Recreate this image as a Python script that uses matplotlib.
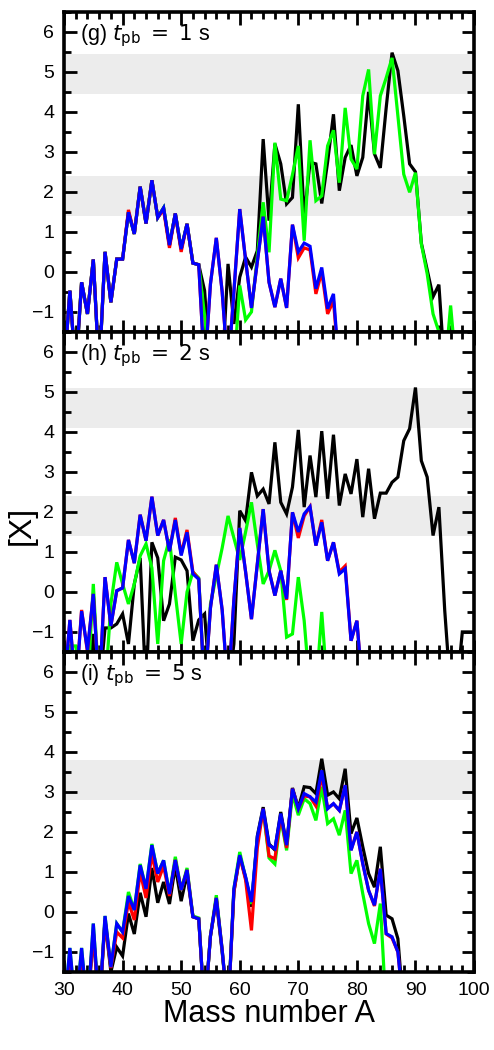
import numpy as np
import matplotlib
matplotlib.use("Agg")
import matplotlib.pyplot as plt
from matplotlib.ticker import MultipleLocator

plt.rcParams['font.family'] = ['Liberation Sans', 'DejaVu Sans']
plt.rcParams['mathtext.fontset'] = 'dejavusans'

L = -2.5  # value below the plotted range
N = np.nan
mass_number = list(range(30, 101))

def pad(vals):
    v = list(vals) + [N] * (71 - len(vals))
    return np.array(v, dtype=float)

# ---------------- panel (g) t_pb = 1 s ----------------
g_blue = pad([L, -0.47, L, -0.26, -1.05, 0.31, L, 0.5, -0.76, 0.32,
              0.32, 1.49, 0.95, 2.13, 1.21, 2.29, 1.36, 1.6, 0.67, 1.46,
              0.57, 1.2, 0.22, 0.18, L, -0.3, 0.85, -0.5, L, -0.5,
              1.57, 0.3, -0.9, 0.25, 1.38, -0.26, -0.88, -0.17, -0.9, 1.18,
              0.5, 0.72, 0.64, -0.42, 0.11, -0.92, -0.55, L])
g_red = pad([L, -0.47, L, -0.26, -1.05, 0.31, L, 0.5, -0.76, 0.32,
             0.32, 1.55, 0.95, 2.13, 1.21, 2.29, 1.36, 1.55, 0.6, 1.46,
             0.5, 1.2, 0.22, 0.18, L, -0.3, 0.85, -0.5, L, -0.5,
             1.57, 0.3, -0.9, 0.25, 1.38, -0.26, -0.88, -0.17, -0.9, 1.18,
             0.35, 0.6, 0.55, -0.55, 0.0, -1.05, -0.72, L])
g_black = pad([L, -0.47, L, -0.26, -1.05, 0.31, L, 0.5, -0.76, 0.32,
               0.32, 1.49, 0.95, 2.13, 1.21, 2.29, 1.36, 1.6, 0.67, 1.46,
               0.57, 1.2, 0.22, 0.18, -0.47, L, L, L, 0.2, -1.3,
               -0.13, 0.37, 0.12, 0.53, 3.32, 1.28, 3.2, 2.7, 1.7, 1.86,
               4.19, 1.36, 2.74, 2.7, 1.71, 2.75, 3.94, 2.03, 2.86, 3.17,
               2.4, 2.86, 4.5, 2.95, 2.6, 4.1, 5.48, 5.03, 3.9, 2.7,
               2.5, 0.72, 0.05, -0.62, -0.32, L])
g_green = pad([L, -0.47, L, -0.26, -1.05, 0.31, L, 0.5, -0.76, 0.32,
               0.32, 1.49, 0.95, 2.13, 1.21, 2.29, 1.36, 1.6, 0.67, 1.46,
               0.57, 1.2, 0.22, 0.18, -1.1, L, L, L, L, L,
               -0.34, -1.2, -1.0, 0.4, 1.74, 0.49, 3.23, 1.82, 1.78, 2.43,
               3.15, 0.78, 3.29, 1.78, 1.9, 3.15, 3.54, 2.23, 4.1, 2.82,
               2.57, 4.4, 5.06, 2.94, 4.4, 4.85, 5.35, 3.9, 2.44, 1.99,
               2.48, 0.7, -0.05, -1.05, -1.5, L, -0.84, L])

# ---------------- panel (h) t_pb = 2 s ----------------
h_blue = pad([L, -0.7, L, -0.48, -1.45, -0.05, L, 0.37, -0.85, 0.03,
              0.1, 1.3, 0.72, 1.93, 1.28, 2.38, 1.41, 1.8, 1.02, 1.8,
              0.91, 1.49, 0.45, 0.32, L, -0.4, 0.68, -0.45, L, -0.2,
              1.6, 0.5, -0.68, 0.7, 2.07, 0.53, -0.09, 0.53, -0.17, 1.99,
              1.5, 1.95, 2.13, 1.16, 1.74, 0.78, 1.24, 0.45, 0.58, -1.22,
              -0.72, L])
h_red = pad([L, -0.7, L, -0.45, -1.5, -0.05, L, 0.37, -0.85, 0.03,
             0.1, 1.3, 0.72, 1.93, 1.28, 2.38, 1.41, 1.8, 1.02, 1.85,
             0.95, 1.55, 0.5, 0.32, L, -0.4, 0.68, -0.45, L, -0.2,
             1.6, 0.5, -0.68, 0.7, 2.07, 0.53, -0.09, 0.53, -0.2, 1.99,
             1.35, 1.9, 2.13, 1.16, 1.8, 0.78, 1.24, 0.5, 0.65, -1.22,
             -0.72, L])
h_black = pad([L, L, L, L, L, -1.05, L, -0.9, -0.9, -0.8,
               -0.55, -1.3, 0.2, 0.85, L, 1.24, 0.85, -0.72, -0.3, 0.87,
               0.8, 0.53, -1.22, -0.7, -0.55, L, L, L, L, -1.3,
               2.03, 1.78, 2.99, 2.4, 2.57, 2.2, 3.74, 2.24, 1.95, 2.62,
               4.05, 2.12, 3.41, 2.37, 4.02, 2.33, 3.93, 2.16, 2.95, 2.45,
               3.32, 1.87, 3.08, 1.83, 2.47, 2.47, 2.74, 2.87, 3.78, 4.08,
               5.11, 3.28, 2.87, 1.41, 2.12, -0.47, L, L, -1.0, -1.0,
               -1.0])
h_green = pad([L, -1.35, -1.35, L, L, 0.2, L, L, -0.3, 0.74,
               0.2, -0.3, 0.2, 0.9, 1.2, 0.6, -1.3, 0.78, 1.32, -0.05,
               -1.3, 0.0, 0.5, 0.35, L, -0.3, 0.4, 1.1, 1.9, 1.35,
               0.8, 1.5, 2.24, 1.2, 0.2, 0.53, 1.04, 0.53, -1.13, -1.05,
               0.37, -0.72, L, L, -0.5, L])

# ---------------- panel (i) t_pb = 5 s ----------------
i_blue = pad([L, -0.9, L, -0.9, L, -0.29, L, -0.1, -1.38, -0.29,
              -0.5, 0.4, 0.05, 1.17, 0.58, 1.67, 0.96, 1.29, 0.45, 1.3,
              0.55, 1.05, -0.12, -0.17, L, -0.6, 0.35, -0.95, L, 0.58,
              1.42, 0.88, 0.25, 1.87, 2.58, 1.67, 1.58, 2.46, 1.67, 3.08,
              2.58, 2.96, 2.88, 2.75, 3.54, 2.58, 2.71, 2.54, 3.17, 1.54,
              2.0, 1.21, 0.54, 0.17, 1.08, -0.54, -0.62, -1.0, L])
i_red = pad([L, -1.1, L, -1.1, L, -0.5, L, -0.2, -1.4, -0.5,
             -0.65, 0.25, -0.2, 1.0, 0.35, 1.45, 0.75, 1.15, 0.4, 1.3,
             0.55, 1.05, -0.12, -0.17, L, -0.6, 0.35, -0.95, L, 0.5,
             1.4, 0.8, -0.46, 1.6, 2.58, 1.4, 1.33, 2.4, 1.6, 3.08,
             2.58, 2.9, 2.88, 2.65, 3.4, 2.6, 2.7, 2.54, 3.17, 1.55,
             2.0, 1.21, 0.54, 0.15, 1.08, -0.55, -0.65, -1.0, L])
i_black = pad([L, -1.1, L, -1.1, L, -0.5, L, -0.2, -1.5, -0.88,
               -1.1, -0.04, -0.55, 0.48, -0.12, 1.1, 0.23, 0.75, 0.2, 1.15,
               0.27, 0.95, -0.12, -0.17, L, -0.6, 0.3, -1.0, L, 0.5,
               1.4, 0.85, 0.13, 1.9, 2.62, 1.7, 1.55, 2.5, 1.67, 3.1,
               2.6, 3.13, 3.11, 2.96, 3.83, 2.92, 3.0, 2.83, 3.58, 1.96,
               2.35, 1.63, 0.96, 0.62, 1.63, -0.08, -0.17, -0.67, L])
i_green = pad([L, -0.9, L, -0.9, L, -0.29, L, -0.1, -1.38, -0.29,
               -0.5, 0.5, 0.05, 1.2, 0.58, 1.7, 0.96, 1.29, 0.45, 1.38,
               0.55, 1.1, -0.1, -0.15, L, -0.6, 0.42, -0.95, L, 0.58,
               1.5, 0.85, 0.2, 1.8, 2.55, 1.35, 1.2, 2.35, 1.54, 2.95,
               2.42, 2.83, 2.71, 2.29, 3.13, 2.21, 2.33, 1.92, 2.54, 0.96,
               1.29, 0.46, -0.29, -0.79, 0.21, L])

panel_labels = ['(g) $t_{\\mathsf{pb}}\\;=\\;1$ s', '(h) $t_{\\mathsf{pb}}\\;=\\;2$ s',
                '(i) $t_{\\mathsf{pb}}\\;=\\;5$ s']
bands = [[(4.45, 5.45), (1.4, 2.4)], [(4.1, 5.1), (1.4, 2.4)], [(2.8, 3.8)]]
series = [
    (g_black, g_green, g_red, g_blue),
    (h_black, h_green, h_red, h_blue),
    (i_black, i_green, i_red, i_blue),
]
colors = ['#000000', '#00ff00', '#ff0000', '#0000ff']

fig = plt.figure(figsize=(4.94, 10.5), dpi=100)
left, width = 0.1296, 0.830
bottom0, h = 0.0743, 0.3048
x = np.array(mass_number)

for k in range(3):
    ax = fig.add_axes([left, bottom0 + (2 - k) * h, width, h])
    for lo, hi in bands[k]:
        ax.axhspan(lo, hi, color='#ececec', lw=0, zorder=0)
    for ys, c in zip(series[k], colors):
        ax.plot(x, ys, color=c, lw=2.3, solid_joinstyle='miter', zorder=2)
    ax.set_xlim(30, 100)
    ax.set_ylim(-1.5, 6.5)
    ax.xaxis.set_major_locator(MultipleLocator(10))
    ax.xaxis.set_minor_locator(MultipleLocator(2))
    ax.yaxis.set_major_locator(MultipleLocator(1))
    ax.yaxis.set_minor_locator(MultipleLocator(0.5))
    ax.tick_params(which='both', direction='in', top=True, right=True,
                   labelsize=14, width=2.0, pad=7)
    ax.tick_params(which='major', length=9)
    ax.tick_params(which='minor', length=5)
    ax.set_yticks([-1, 0, 1, 2, 3, 4, 5, 6])
    for sp in ax.spines.values():
        sp.set_linewidth(2.6)
        sp.set_zorder(5)
    ax.text(0.04, 0.925, panel_labels[k], transform=ax.transAxes,
            fontsize=15.5, va='center', ha='left')
    if k < 2:
        ax.tick_params(labelbottom=False)
    else:
        ax.set_xlabel('Mass number A', fontsize=22, labelpad=0)

fig.text(0.045, 0.5, '[X]', rotation=90, fontsize=23, va='center', ha='center')
fig.savefig('out.png', dpi=100)
